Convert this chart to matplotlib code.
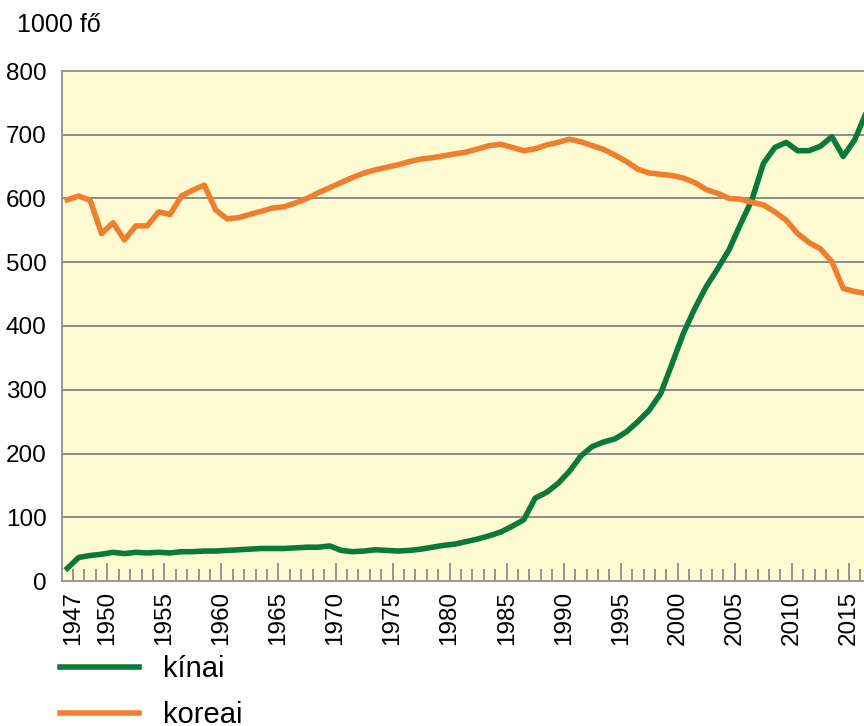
import numpy as np
import matplotlib.pyplot as plt
from matplotlib.ticker import FixedLocator

plt.rcParams['font.family'] = ['Liberation Sans', 'DejaVu Sans']

years = list(range(1947, 2018))

# ezer fő
kinai = [20, 37, 40, 42, 45, 43, 45, 44, 45, 44,
         46, 46, 47, 47, 48, 49, 50, 51, 51, 51,
         52, 53, 53, 55, 48, 46, 47, 49, 48, 47,
         48, 50, 53, 56, 58, 62, 66, 71, 77, 86,
         96, 130, 139, 153, 172, 196, 211, 218, 223, 234,
         250, 268, 294, 341, 389, 428, 462, 490, 520, 560,
         598, 655, 680, 688, 675, 675, 682, 697, 666, 692,
         734]

koreai = [598, 604, 597, 545, 562, 535, 557, 557, 579, 575,
          604, 613, 621, 582, 568, 570, 575, 580, 585, 587,
          593, 600, 609, 617, 625, 633, 640, 645, 649, 653,
          658, 662, 664, 667, 670, 673, 678, 683, 685, 680,
          675, 678, 684, 688, 693, 689, 683, 677, 668, 658,
          646, 640, 638, 636, 632, 625, 614, 608, 600, 599,
          594, 590, 579, 566, 545, 531, 521, 501, 459, 454,
          451]

label_years = [1947] + list(range(1950, 2016, 5))

fig = plt.figure(figsize=(8.64, 7.26), dpi=100)
ax = fig.add_axes([62 / 864, 1 - 581 / 726, 1 - 62 / 864 + 0.002, 510 / 726])

ax.set_facecolor('#fefad2')
ax.plot(years, kinai, color='#0b7a38', lw=4.0, solid_joinstyle='round', label='kínai', zorder=3)
ax.plot(years, koreai, color='#ef7f2f', lw=4.0, solid_joinstyle='round', label='koreai', zorder=3)

ax.set_xlim(1946.53, 2016.97)
ax.set_ylim(0, 800)
ax.set_yticks(np.arange(0, 801, 100))
ax.yaxis.grid(True, color='#8c8c8c', lw=1.4)
ax.set_axisbelow(True)
ax.tick_params(axis='y', length=0, pad=11, labelsize=17.5)

ax.xaxis.set_major_locator(FixedLocator([y + 0.5 for y in label_years]))
ax.set_xticklabels([str(y) for y in label_years], rotation=90)
ax.xaxis.set_minor_locator(FixedLocator([y + 0.5 for y in years]))
ax.tick_params(axis='x', which='major', direction='in', length=13, width=1.3,
               color='#8c8c8c', pad=7, labelsize=17.5)
ax.tick_params(axis='x', which='minor', direction='in', length=8.5, width=1.3,
               color='#8c8c8c')
ax.xaxis.get_major_ticks()[0].tick1line.set_markersize(8.5)

for s in ['left', 'top', 'bottom']:
    ax.spines[s].set_color('#999999')
    ax.spines[s].set_linewidth(1.4)
ax.spines['right'].set_visible(False)

fig.text(17 / 864, 1 - 25 / 726, '1000 fő', fontsize=18, va='center', ha='left')

fig.legend(loc='upper left', bbox_to_anchor=(60 / 864, 1 - 655 / 726),
           bbox_transform=fig.transFigure, frameon=False, fontsize=21,
           handlelength=2.7, handletextpad=0.82, labelspacing=0.62,
           borderpad=0, borderaxespad=0)

plt.savefig('out.png', dpi=100)
